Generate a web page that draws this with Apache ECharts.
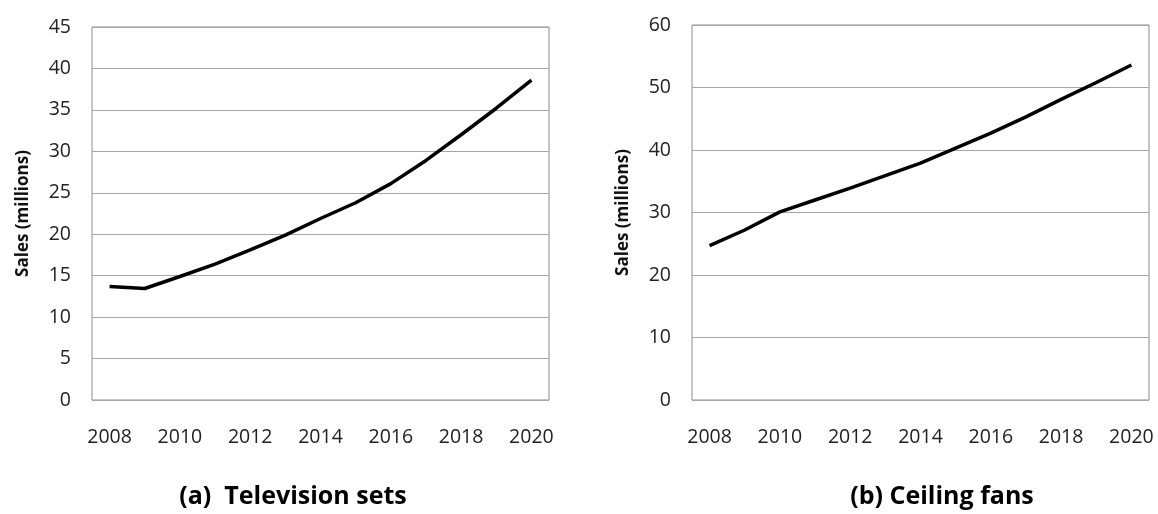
<!DOCTYPE html>
<html>
<head>
<meta charset="utf-8">
<script src="https://cdn.jsdelivr.net/npm/echarts@6/dist/echarts.min.js"></script>
<style>
  html, body { margin: 0; padding: 0; background: #fff; }
  #main { width: 1158px; height: 514px; }
</style>
</head>
<body>
<div id="main"></div>
<script>
// years on the x axis (shared by both panels)
var years = ['2008', '2009', '2010', '2011', '2012', '2013', '2014',
             '2015', '2016', '2017', '2018', '2019', '2020'];

// (a) television sets, sales in millions
var tvSales = [13.7, 13.45, 14.9, 16.4, 18.1, 19.9, 21.9, 23.8, 26.1, 28.9, 32.0, 35.2, 38.6];

// (b) ceiling fans, sales in millions
var fanSales = [24.7, 27.2, 30.1, 32.0, 33.9, 35.9, 37.9, 40.3, 42.7, 45.3, 48.1, 50.8, 53.6];

var panelTitles = ['(a)  Television sets', '(b) Ceiling fans'];
var yName = 'Sales (millions)';

var labelFont = { fontFamily: 'Open Sans', fontSize: 19.5, color: '#222' };

function xAxisFor(idx) {
  return {
    gridIndex: idx,
    type: 'category',
    data: years,
    boundaryGap: true,
    axisLine: { show: false },
    axisTick: { show: false },
    axisLabel: Object.assign({ interval: 1, margin: 27 }, labelFont),
    splitLine: { show: false }
  };
}

function yAxisFor(idx, max, step) {
  return {
    gridIndex: idx,
    type: 'value',
    min: 0,
    max: max,
    interval: step,
    name: yName,
    nameLocation: 'middle',
    nameGap: 60,
    nameTextStyle: { fontFamily: 'Open Sans', fontSize: 17, fontWeight: 'bold', color: '#111' },
    axisLine: { show: false },
    axisTick: { show: false },
    axisLabel: Object.assign({ margin: 21 }, labelFont),
    splitLine: { show: true, lineStyle: { color: '#a6a6a6', width: 1 } }
  };
}

var chart = echarts.init(document.getElementById('main'));

var titleStyle = { fontFamily: 'Open Sans', fontSize: 25, fontWeight: 'bold', color: '#000' };

var option = {
  backgroundColor: '#fff',
  animation: false,
  title: [
    { text: panelTitles[0], left: 288, top: 479, textAlign: 'center', textStyle: titleStyle },
    { text: panelTitles[1], left: 937, top: 479, textAlign: 'center', textStyle: titleStyle }
  ],
  grid: [
    { left: 92, top: 27, width: 457, height: 373, show: true, borderColor: '#8c8c8c', borderWidth: 1 },
    { left: 692, top: 25, width: 457, height: 375, show: true, borderColor: '#8c8c8c', borderWidth: 1 }
  ],
  xAxis: [xAxisFor(0), xAxisFor(1)],
  yAxis: [yAxisFor(0, 45, 5), yAxisFor(1, 60, 10)],
  series: [
    {
      type: 'line',
      xAxisIndex: 0,
      yAxisIndex: 0,
      data: tvSales,
      showSymbol: false,
      lineStyle: { color: '#000', width: 3.5 }
    },
    {
      type: 'line',
      xAxisIndex: 1,
      yAxisIndex: 1,
      data: fanSales,
      showSymbol: false,
      lineStyle: { color: '#000', width: 3.5 }
    }
  ]
};

chart.setOption(option);
</script>
</body>
</html>
